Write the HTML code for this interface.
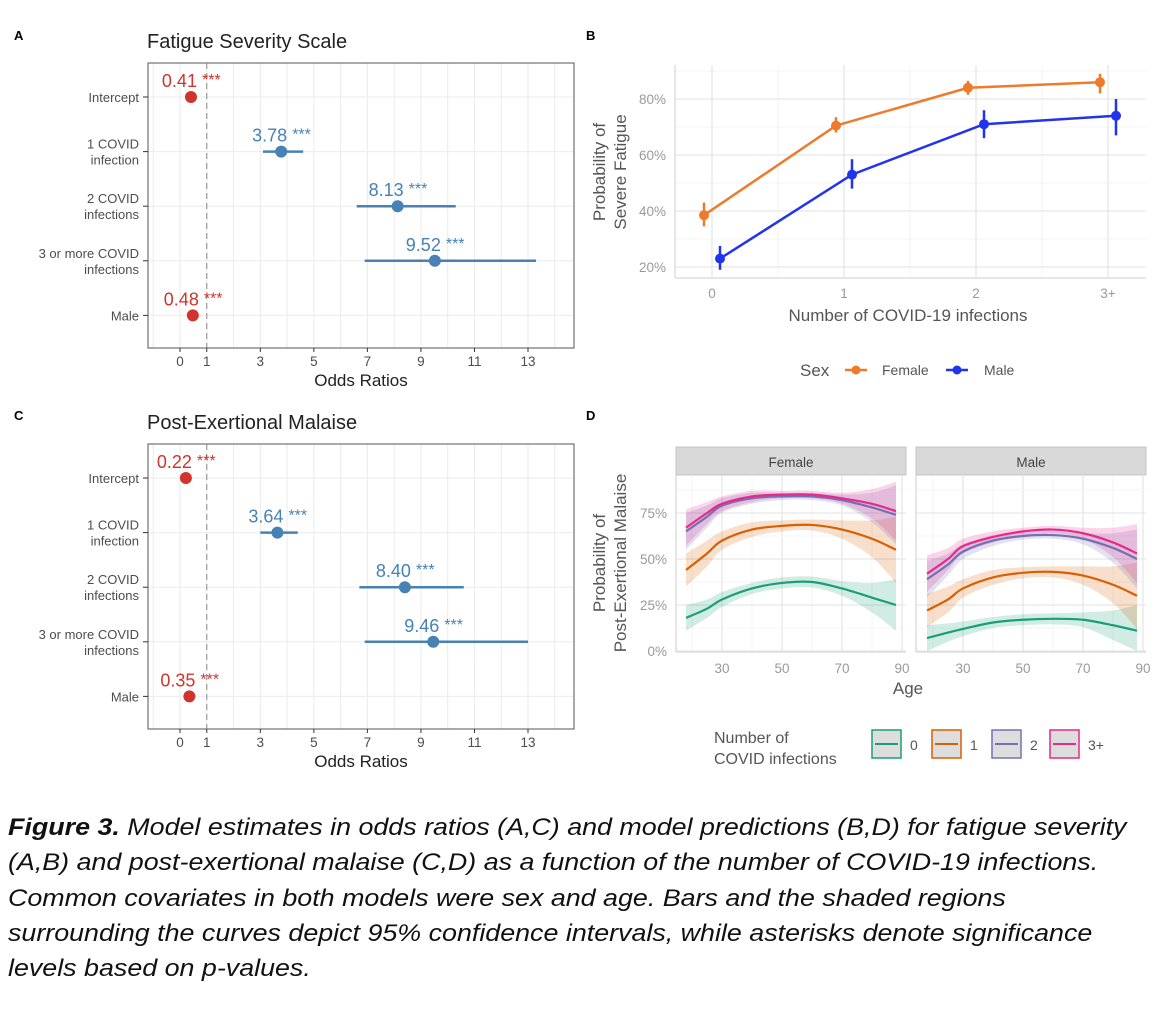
<!DOCTYPE html>
<html><head><meta charset="utf-8">
<style>
body{margin:0;background:#fff;width:1166px;height:1017px;overflow:hidden;font-family:"Liberation Sans",sans-serif}
#cap{position:absolute;left:8px;top:810px;font-style:italic;font-size:24px;line-height:35.3px;color:#111;width:1000px;transform:scaleX(1.118);transform-origin:0 0;white-space:nowrap}
</style></head><body>
<svg id="fig" width="1166" height="800" style="position:absolute;left:0;top:0" font-family="Liberation Sans, sans-serif"></svg>
<div id="cap"><b>Figure 3.</b> Model estimates in odds ratios (A,C) and model predictions (B,D) for fatigue severity<br>(A,B) and post-exertional malaise (C,D) as a function of the number of COVID-19 infections.<br>Common covariates in both models were sex and age. Bars and the shaded regions<br>surrounding the curves depict 95% confidence intervals, while asterisks denote significance<br>levels based on p-values.</div>
<script>
// ---- Panel A / C data ----
const terms=[["Intercept"],["1 COVID","infection"],["2 COVID","infections"],["3 or more COVID","infections"],["Male"]];
const orA=[0.41,3.78,8.13,9.52,0.48];
const loA=[null,3.1,6.6,6.9,null];
const hiA=[null,4.6,10.3,13.3,null];
const orC=[0.22,3.64,8.40,9.46,0.35];
const loC=[null,3.0,6.7,6.9,null];
const hiC=[null,4.4,10.6,13.0,null];
const orTicks=[0,1,3,5,7,9,11,13];
// ---- Panel B data ----
const nInf=["0","1","2","3+"];
const femP=[38.5,70.5,84,86];
const femLo=[34.5,68,81.5,82];
const femHi=[43,73.5,86.5,89];
const maleP=[23,53,71,74];
const maleLo=[19,48,66,67];
const maleHi=[27.5,58.5,76,80];
const probTicks=[20,40,60,80];
// ---- Panel D data ----
const ages=[18,25,30,40,50,60,70,80,88];
const f0=[18,23,28,34,37,37.5,34,29,25];
const f1=[44,53,60,66,68,68.5,66,61,55];
const f2=[65,73,79,83,84,84,82,78,74];
const f3=[67,75,80,84,85,85,83,80,76];
const m0=[7,10,12,15.5,17,17.5,17,14,11];
const m1=[22,28,34,40,42.5,43,41,36,30];
const m2=[39,47,54,60,62.5,63,61,56,50];
const m3=[42,50,57,62,65,66,64,59,53];
const w0=[7,5,4,3,3,3,4,8,14];
const w1=[9,7,5,4,3,3,5,10,18];
const w2=[10,6,4,3,2,2,3,8,16];
const w3=[10,6,4,3,2,2,3,8,16];
const ageTicks=[30,50,70,90];
const pctTicks=[0,25,50,75];

const NS="http://www.w3.org/2000/svg";
const svg=document.getElementById('fig');
function mk(tag,attrs,parent,txt){const e=document.createElementNS(NS,tag);for(const k in attrs)e.setAttribute(k,attrs[k]);if(txt!==undefined)e.textContent=txt;(parent||svg).appendChild(e);return e;}
function T(x,y,s,size,fill,anchor,extra){const e=mk('text',Object.assign({x:x,y:y,'font-size':size,fill:fill,'text-anchor':anchor||'start'},extra||{}),svg,s);return e;}
function smooth(pts){let d='M'+pts[0][0]+','+pts[0][1];for(let i=0;i<pts.length-1;i++){const p0=pts[Math.max(0,i-1)],p1=pts[i],p2=pts[i+1],p3=pts[Math.min(pts.length-1,i+2)];
 d+=' C'+(p1[0]+(p2[0]-p0[0])/6)+','+(p1[1]+(p2[1]-p0[1])/6)+' '+(p2[0]-(p3[0]-p1[0])/6)+','+(p2[1]-(p3[1]-p1[1])/6)+' '+p2[0]+','+p2[1];}return d;}
function smoothCont(pts){return smooth(pts).slice(1).replace(/^[^ ]+/,'');}

[["A",14,40],["B",586,40],["C",14,420],["D",586,420]].forEach(p=>{
 const e=T(p[1],p[2],p[0],13,'#000','start',{'font-weight':'bold'});
 
 
});

function forest(title,top,ors,los,his,key){
 const L=148,R=574,B=top+285;
 const x=v=>180+v*26.77;
 const rowY=i=>top+34+i*54.6;
 const t=T(147,top-15,title,20,'#222');
 
 
 for(let v=-1;v<=14;v++){mk('line',{x1:x(v),x2:x(v),y1:top,y2:B,stroke:'#ebebeb','stroke-width':1});}
 terms.forEach((_,i)=>mk('line',{x1:L,x2:R,y1:rowY(i),y2:rowY(i),stroke:'#ebebeb','stroke-width':1}));
 const fr=mk('rect',{x:L,y:top,width:R-L,height:B-top,fill:'none',stroke:'#555','stroke-width':1});
 
 
 mk('line',{x1:x(1),x2:x(1),y1:top,y2:B,stroke:'#888','stroke-dasharray':'6,4','stroke-width':1});
 orTicks.forEach(v=>{mk('line',{x1:x(v),x2:x(v),y1:B,y2:B+4,stroke:'#333'});
  const e=T(x(v),B+18,String(v),13.5,'#4d4d4d','middle');
  
  });
 const xt=T(361,B+38,'Odds Ratios',17,'#222','middle');
 
 
 terms.forEach((lines,i)=>{
  const y=rowY(i);
  mk('line',{x1:L-5,x2:L,y1:y,y2:y,stroke:'#333'});
  lines.forEach((s,j)=>{const e=T(139,y+5+(j-(lines.length-1))*16+(lines.length>1?8:0),s,13,'#4d4d4d','end');
   
   });
  const col=ors[i]<1?'#d0342c':'#4682b4';
  if(los[i]!==null){const ci=mk('line',{x1:x(los[i]),x2:x(his[i]),y1:y,y2:y,stroke:col,'stroke-width':2.5});
   
   }
  const c=mk('circle',{cx:x(ors[i]),cy:y,r:6,fill:col});
  
  
  const vl=T(x(ors[i])+6,y-10,ors[i].toFixed(2),18,col,'end');
  
  
  const st=T(x(ors[i])+11,y-12,'***',16,col,'start');
  
  
 });
}
forest('Fatigue Severity Scale',63,orA,loA,hiA,'panel-a');
forest('Post-Exertional Malaise',444,orC,loC,hiC,'panel-c');

// Panel B
(function(){
 const L=675,R=1146,Tp=65,Bt=278;
 const y=p=>267-(p-20)*2.8;
 const xc=i=>712+i*132;
 for(let p=10;p<=90;p+=10){if(y(p)>Tp&&y(p)<Bt)mk('line',{x1:L,x2:R,y1:y(p),y2:y(p),stroke:p%20==0?'#e6e6e6':'#f0f0f0','stroke-width':p%20==0?1.3:0.8});}
 for(let i=-0.5;i<=3.5;i+=0.5){const xx=xc(i);if(xx>L&&xx<R)mk('line',{x1:xx,x2:xx,y1:Tp,y2:Bt,stroke:i%1==0?'#e6e6e6':'#f0f0f0','stroke-width':i%1==0?1.3:0.8});}
 mk('line',{x1:L,x2:L,y1:Tp,y2:Bt,stroke:'#ddd','stroke-width':1.5});
 mk('line',{x1:L,x2:R,y1:Bt,y2:Bt,stroke:'#ddd','stroke-width':1.5});
 probTicks.forEach(p=>{const e=T(666,y(p)+5,p+'%',13.5,'#999','end');
  
  });
 nInf.forEach((s,i)=>{const e=T(xc(i),298,s,13.5,'#999','middle');
  
  });
 const xt=T(908,321,'Number of COVID-19 infections',17,'#555','middle');
 
 
 const yt=mk('text',{transform:'translate(605,172) rotate(-90)','font-size':17,fill:'#555','text-anchor':'middle'});
 
 
 mk('tspan',{x:0,y:0},yt,'Probability of');mk('tspan',{x:0,y:21},yt,'Severe Fatigue');
 [[femP,femLo,femHi,'#ee7b2c',-8,'female'],[maleP,maleLo,maleHi,'#2233ee',8,'male']].forEach(s=>{
  const pts=s[0].map((v,i)=>(xc(i)+s[4])+','+y(v)).join(' ');
  const pl=mk('polyline',{points:pts,fill:'none',stroke:s[3],'stroke-width':2.5});
  
  
  s[0].forEach((v,i)=>{
   const eb=mk('line',{x1:xc(i)+s[4],x2:xc(i)+s[4],y1:y(s[1][i]),y2:y(s[2][i]),stroke:s[3],'stroke-width':2.5});
   
   
   const c=mk('circle',{cx:xc(i)+s[4],cy:y(v),r:5,fill:s[3]});
   
   
  });
 });
 const lt=T(800,376,'Sex',17,'#555','start');
 
 
 [['Female','#ee7b2c',845,882],['Male','#2233ee',946,984]].forEach(l=>{
  const g=mk('g',{});
  
  
  mk('line',{x1:l[2],x2:l[2]+22,y1:370,y2:370,stroke:l[1],'stroke-width':2.5},g);
  mk('circle',{cx:l[2]+11,cy:370,r:4.5,fill:l[1]},g);
  mk('text',{x:l[3],y:375,'font-size':14,fill:'#555'},g,l[0]);
 });
})();

// Panel D
(function(){
 const Tp=475,Bt=652;
 const y=p=>651-p*1.84;
 const facets=[{name:'Female',L:676,R:906,x0:722,series:[f0,f1,f2,f3]},{name:'Male',L:916,R:1146,x0:963,series:[m0,m1,m2,m3]}];
 const cols=['#1b9e77','#d95f02','#7570b3','#e7298a'];
 const ws=[w0,w1,w2,w3];
 facets.forEach(f=>{
  const x=a=>f.x0+(a-30)*3;
  const strip=mk('rect',{x:f.L,y:447,width:f.R-f.L,height:28,fill:'#d9d9d9',stroke:'#bbb','stroke-width':0.8});
  
  
  const st=T((f.L+f.R)/2,467,f.name,13.5,'#444','middle');
  
  
  for(let a=20;a<=90;a+=10){if(x(a)>f.L&&x(a)<f.R)mk('line',{x1:x(a),x2:x(a),y1:Tp,y2:Bt,stroke:a%20==10?'#e6e6e6':'#f0f0f0','stroke-width':a%20==10?1.3:0.8});}
  for(let p=0;p<=100;p+=12.5){if(y(p)>Tp)mk('line',{x1:f.L,x2:f.R,y1:y(p),y2:y(p),stroke:p%25==0?'#e6e6e6':'#f0f0f0','stroke-width':p%25==0?1.3:0.8});}
  mk('line',{x1:f.L,x2:f.L,y1:Tp,y2:Bt,stroke:'#ddd','stroke-width':1.5});
  mk('line',{x1:f.L,x2:f.R,y1:Bt,y2:Bt,stroke:'#ddd','stroke-width':1.5});
  ageTicks.forEach(a=>{const e=T(x(a),673,String(a),13.5,'#999','middle');
   
   });
  f.series.forEach((s,k)=>{
   const up=ages.map((a,i)=>[x(a),y(Math.min(100,s[i]+ws[k][i]))]);
   const dn=ages.map((a,i)=>[x(a),y(Math.max(0,s[i]-ws[k][i]))]).reverse();
   const d=smooth(up)+' L'+dn[0][0]+','+dn[0][1]+smooth(dn).replace(/^M[^ ]+/,'')+' Z';
   const band=mk('path',{d:d,fill:cols[k],'fill-opacity':0.2});
   
   
  });
  f.series.forEach((s,k)=>{
   const d=smooth(ages.map((a,i)=>[x(a),y(s[i])]));
   const pl=mk('path',{d:d,fill:'none',stroke:cols[k],'stroke-width':2.2});
   
   
  });
 });
 pctTicks.forEach(p=>{const e=T(667,y(p)+5,p+'%',13.5,'#999','end');
  
  });
 const xt=T(908,694,'Age',17,'#555','middle');
 
 
 const yt=mk('text',{transform:'translate(605,563) rotate(-90)','font-size':17,fill:'#555','text-anchor':'middle'});
 
 
 mk('tspan',{x:0,y:0},yt,'Probability of');mk('tspan',{x:0,y:21},yt,'Post-Exertional Malaise');
 const lt=mk('text',{x:714,y:743,'font-size':16,fill:'#555'});
 
 
 mk('tspan',{x:714,y:743},lt,'Number of');mk('tspan',{x:714,y:764},lt,'COVID infections');
 const labs=['0','1','2','3+'];
 const lx=[872,932,992,1050];
 labs.forEach((l,k)=>{
  const g=mk('g',{});
  
  
  mk('rect',{x:lx[k],y:730,width:29,height:28,fill:'#ddd',stroke:cols[k],'stroke-width':1.5},g);
  mk('line',{x1:lx[k]+3,x2:lx[k]+26,y1:744,y2:744,stroke:cols[k],'stroke-width':2},g);
  mk('text',{x:lx[k]+38,y:750,'font-size':14,fill:'#555'},g,l);
 });
})();
</script>
</body></html>
